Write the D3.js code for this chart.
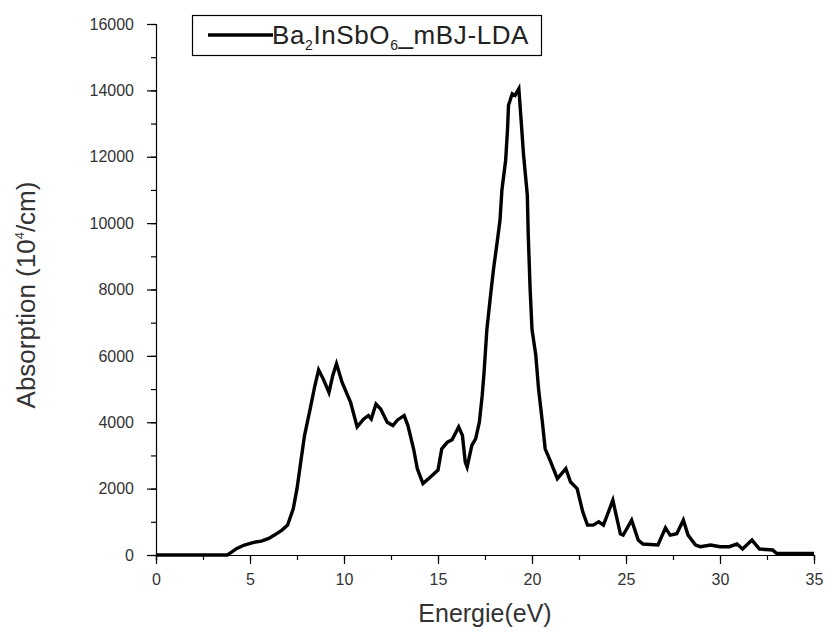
<!DOCTYPE html>
<html>
<head>
<meta charset="utf-8">
<script src="https://cdn.jsdelivr.net/npm/d3@7/dist/d3.min.js"></script>
<style>
  body { margin: 0; background: #fff; }
  svg { display: block; font-family: "Liberation Sans", Arial, sans-serif; }
</style>
</head>
<body>
<svg width="828" height="637"></svg>
<script>
const energy = [0, 1, 2, 3, 3.8, 4.0, 4.3, 4.7, 5.2, 5.6, 6.0, 6.3, 6.7, 7.0, 7.3, 7.5, 7.7, 7.9, 8.2, 8.45,
  8.65, 8.9, 9.2, 9.4, 9.6, 9.9, 10.35, 10.7, 11.05, 11.3, 11.45, 11.7, 11.95, 12.3, 12.6, 12.85, 13.2, 13.4, 13.7, 13.9,
  14.2, 14.6, 15.0, 15.2, 15.5, 15.75, 16.1, 16.3, 16.45, 16.55, 16.8, 17.0, 17.2, 17.35, 17.45, 17.6, 17.8, 17.95, 18.15, 18.3,
  18.4, 18.6, 18.7, 18.75, 18.95, 19.1, 19.3, 19.4, 19.55, 19.75, 19.8, 19.9, 20.0, 20.2, 20.35, 20.55, 20.7, 21.0, 21.35, 21.8,
  22.05, 22.4, 22.7, 22.95, 23.25, 23.55, 23.8, 24.3, 24.7, 24.85, 25.3, 25.65, 25.9, 26.7, 27.1, 27.35, 27.7, 28.05, 28.3, 28.7,
  28.95, 29.5, 30.0, 30.5, 30.9, 31.2, 31.7, 32.1, 32.8, 33.0, 34, 35]
const absorption = [0, 0, 0, 0, 0, 80, 200, 300, 380, 420, 500, 600, 750, 900, 1390, 2000, 2800, 3600, 4400, 5100,
  5580, 5300, 4900, 5400, 5760, 5200, 4600, 3860, 4100, 4200, 4100, 4550, 4400, 4000, 3900, 4070, 4200, 3900, 3200, 2600,
  2150, 2350, 2560, 3200, 3400, 3470, 3860, 3600, 2800, 2650, 3300, 3500, 4000, 4800, 5500, 6800, 7850, 8600, 9440, 10100,
  11000, 11900, 12850, 13550, 13900, 13850, 14050, 13270, 12060, 10850, 9650, 8020, 6800, 6030, 5000, 4010, 3200, 2800, 2300, 2600,
  2200, 2000, 1300, 900, 900, 1000, 900, 1650, 640, 600, 1050, 450, 330, 300, 820, 600, 640, 1050, 600, 300,
  250, 300, 250, 250, 330, 180, 450, 180, 150, 50, 50, 50]

const xTicks = [0, 5, 10, 15, 20, 25, 30, 35]
const yTicks = [0, 2000, 4000, 6000, 8000, 10000, 12000, 14000, 16000]
const seriesName = ["Ba", "2", "InSbO", "6", "_mBJ-LDA"]

const svg = d3.select("svg")
const plotLeft = 156, plotRight = 814, plotTop = 24, plotBottom = 555

const x = d3.scaleLinear().domain([0, 35]).range([plotLeft, plotRight])
const y = d3.scaleLinear().domain([0, 16000]).range([plotBottom, plotTop])

// x axis with minor ticks
const xAxis = svg.append("g").attr("transform", `translate(0,${plotBottom})`)
xAxis.call(d3.axisBottom(x).tickValues(d3.range(0, 35.01, 2.5)).tickSize(5).tickFormat(""))
const xLab = svg.append("g").attr("transform", `translate(0,${plotBottom})`)
xLab.call(d3.axisBottom(x).tickValues(xTicks).tickSize(9).tickPadding(10))
xLab.select(".domain").remove()

const yAxis = svg.append("g").attr("transform", `translate(${plotLeft},0)`)
yAxis.call(d3.axisLeft(y).tickValues(d3.range(0, 16001, 1000)).tickSize(5).tickFormat(""))
const yLab = svg.append("g").attr("transform", `translate(${plotLeft},0)`)
yLab.call(d3.axisLeft(y).tickValues(yTicks).tickSize(9).tickPadding(13).tickFormat(d3.format("d")))
yLab.select(".domain").remove()

svg.selectAll(".domain, .tick line").attr("stroke", "#000").attr("stroke-width", 1.2)
svg.selectAll(".tick text").attr("font-size", 16).attr("fill", "#333")
  .attr("font-family", "'Liberation Sans', Arial, sans-serif")

// curve
const line = d3.line().x((d, i) => x(energy[i])).y(d => y(d))
svg.append("path")
  .datum(absorption)
  .attr("d", line)
  .attr("fill", "none")
  .attr("stroke", "#000")
  .attr("stroke-width", 3.4)
  .attr("stroke-linejoin", "miter")

// axis titles
svg.append("text")
  .attr("x", (plotLeft + plotRight) / 2).attr("y", 622)
  .attr("text-anchor", "middle").attr("font-size", 25).attr("fill", "#333")
  .text("Energie(eV)")

const yt = svg.append("text")
  .attr("transform", "translate(35,295) rotate(-90)")
  .attr("text-anchor", "middle").attr("font-size", 26).attr("fill", "#333")
yt.append("tspan").text("Absorption (10")
yt.append("tspan").text("4").attr("font-size", 13).attr("dy", -11)
yt.append("tspan").text("/cm)").attr("dy", 11)

// legend
svg.append("rect")
  .attr("x", 192.5).attr("y", 15.5).attr("width", 349).attr("height", 40)
  .attr("fill", "#fff").attr("stroke", "#000").attr("stroke-width", 1.2)
svg.append("line")
  .attr("x1", 208).attr("x2", 273).attr("y1", 35).attr("y2", 35)
  .attr("stroke", "#000").attr("stroke-width", 3.4)
const lt = svg.append("text").attr("x", 272).attr("y", 44).attr("font-size", 26)
  .attr("fill", "#222").attr("letter-spacing", 0.6)
seriesName.forEach((s, i) => {
  const sub = i % 2 === 1
  lt.append("tspan").text(s)
    .attr("font-size", sub ? 14 : 26)
    .attr("dy", sub ? 6 : (i > 0 ? -6 : 0))
})
</script>
</body>
</html>
